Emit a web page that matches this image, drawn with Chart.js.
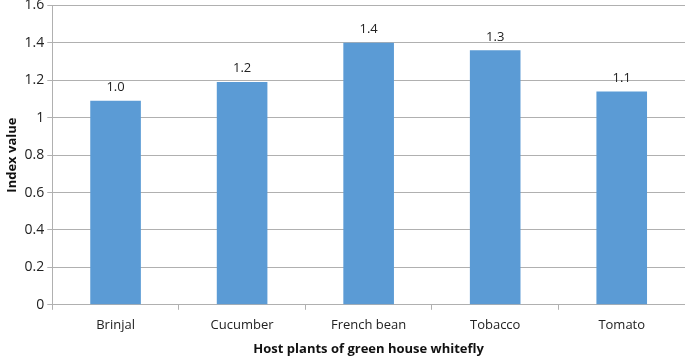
<!DOCTYPE html>
<html><head><meta charset="utf-8">
<script src="https://cdn.jsdelivr.net/npm/chart.js@4"></script>
<style>html,body{margin:0;padding:0;background:#fff;overflow:hidden;width:685px;height:356px}#w{position:absolute;left:0;top:-6px;width:685px;height:363px}</style>
</head><body><div id="w"><canvas id="c"></canvas></div>
<script>
const categories = ["Brinjal", "Cucumber", "French bean", "Tobacco", "Tomato"];
const indexValues = [1.09, 1.19, 1.40, 1.36, 1.14];
const valueLabels = ["1.0", "1.2", "1.4", "1.3", "1.1"];
const yTicks = [0, 0.2, 0.4, 0.6, 0.8, 1, 1.2, 1.4, 1.6];

const FONT = "'Open Sans', 'Liberation Sans', sans-serif";
const labelPlugin = {
  id: 'valueLabels',
  afterDatasetsDraw(chart) {
    const ctx = chart.ctx;
    const meta = chart.getDatasetMeta(0);
    ctx.save();
    ctx.font = "13px " + FONT;
    ctx.fillStyle = "#222";
    ctx.textAlign = "center";
    ctx.textBaseline = "bottom";
    meta.data.forEach((bar, i) => {
      ctx.fillText(valueLabels[i], bar.x, bar.y - 7);
    });
    ctx.restore();
  }
};

new Chart(document.getElementById('c'), {
  type: 'bar',
  data: {
    labels: categories,
    datasets: [{
      data: indexValues,
      backgroundColor: '#5b9bd5',
      borderWidth: 0,
      barPercentage: 0.4,
      categoryPercentage: 1.0
    }]
  },
  plugins: [labelPlugin],
  options: {
    responsive: true,
    maintainAspectRatio: false,
    animation: false,
    layout: { padding: { top: 0, right: 0, left: 0, bottom: 0 } },
    plugins: { legend: { display: false }, tooltip: { enabled: false } },
    scales: {
      x: {
        grid: { offset: true, drawOnChartArea: false, drawTicks: true, tickLength: 5, color: '#b0b0b0' },
        border: { color: '#b0b0b0' },
        ticks: { color: '#222', font: { family: FONT, size: 13 }, padding: 8 },
        title: { display: true, text: 'Host plants of green house whitefly', color: '#111', font: { family: FONT, size: 13, weight: 'bold' }, padding: { top: 0, bottom: 0 } }
      },
      y: {
        min: 0, max: 1.6,
        afterBuildTicks(axis) { axis.ticks = yTicks.map(v => ({ value: v })); },
        grid: { color: '#b0b0b0', tickLength: 5 },
        border: { color: '#b0b0b0' },
        ticks: { color: '#222', font: { family: FONT, size: 14 }, padding: 3, callback: v => String(v) },
        title: { display: true, text: 'Index value', color: '#111', font: { family: FONT, size: 13, weight: 'bold' }, padding: { bottom: 2 } }
      }
    }
  }
});
</script>
</body></html>
